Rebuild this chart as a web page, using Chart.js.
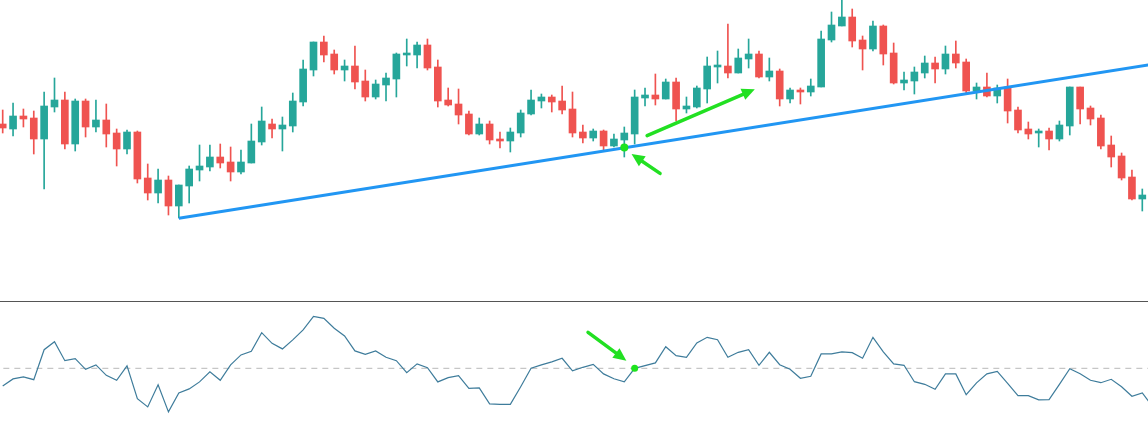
<!DOCTYPE html>
<html>
<head>
<meta charset="utf-8">
<script src="https://cdn.jsdelivr.net/npm/chart.js@4.4.1/dist/chart.umd.min.js"></script>
<style>
  html, body { margin: 0; padding: 0; background: #fff; overflow: hidden; }
  #pricePane { position: relative; width: 1148px; height: 301px; }
  #divider { width: 1148px; height: 1px; background: #555; }
  #oscPane { position: relative; width: 1148px; height: 140px; }
</style>
</head>
<body>
<div id="pricePane"><canvas id="priceChart"></canvas></div>
<div id="divider"></div>
<div id="oscPane"><canvas id="oscChart"></canvas></div>
<script>
// OHLC per bar (index = bar number)
const opens = [138,135.5,142,141,130.5,146.5,150,128,149.5,136.5,
  140,133.5,125.5,134,111,103.5,110,97,107,115,
  116.5,121.5,119,114,118.5,129,138,135.5,137,149,
  165,179,173,165,167,159.5,151.5,157.5,160.5,172.5,
  172.5,177.5,166.5,150,148,143,133,138,130.5,129.5,
  133.5,143,149.5,151.5,149.5,145.5,134,131,134.5,127,
  130,133,151,152.5,150.5,159,145.5,146.5,155.5,166.5,
  167,163.5,170.5,173,161.5,164.5,150.5,155,154,156.5,
  180,187,191.5,180,175.5,187,173.5,158.5,159.5,163.5,
  168.5,165.5,173,169,154.5,156.5,152,156.5,145,135.5,
  133.5,134.5,130.5,137,156.5,146,141,127.5,122,111.5,
  100.5];
const closes = [136,142,140.5,130.5,147,150,128,149.5,136.5,140,
  133,125.5,134,110.5,103.5,110,97,107.5,115.5,117,
  121.5,118.5,114,119,129.5,139.5,135.5,137.5,149.5,165.5,
  179,172.5,165,167,159,151.5,158,161,173,173.5,
  177.5,166,149.5,147.5,142.5,133,138,130,129.5,134,
  143.5,150,151.5,149,145,133.5,131,134.5,127,130.5,
  133.5,151.5,152.5,150.5,159,145.5,147,156,167,167,
  163.5,171,173,161.5,164.5,150.5,155,154,157,180.5,
  187.5,191.5,179.5,175.5,187,173,158.5,160,164,168.5,
  165.5,173,168.5,154.5,156.5,152,156,144.5,135,133,
  134.5,130.5,137.5,156.5,145.5,140.5,127,121.5,111,100.5,
  102.5];
const highs = [145,148.5,145.5,144.5,154,161,154,150.5,150.5,150,
  148,135.5,135,134.5,118,115.5,112,107.5,117,127.5,
  127.5,128,126.5,125,138,146.5,140.5,141.5,153.5,170,
  179,182,175,170,177,165,160,163.5,173.5,180.5,
  179,180.5,170,156,155.5,144.5,141,139.5,134,136,
  145,155,153,152.5,157,154,137.5,135.5,135,133,
  136.5,155,156,163,160.5,161,151.5,157,171.5,174.5,
  188,175.5,180.5,174.5,171,165.5,156,156,160.5,184.5,
  194,200,195.5,182,189.5,187.5,178.5,164,166.5,172,
  171.5,177,179.5,170.5,158.5,163.5,157.5,160.5,146.5,139,
  135.5,136,139.5,156.5,156.5,147,142.5,132,123.5,115,
  105.5];
const lows = [133.5,132,136.5,123,105.5,144,125.5,124.5,131.5,134,
  126.5,117,123,108.5,100,98.5,92.5,91,98.5,109.5,
  114.5,116,109.5,113,118.5,127.5,131,124.5,134,147,
  162,169,163,159.5,155.5,149.5,150.5,149.5,151.5,167,
  166,165,146.5,147,138,132.5,132.5,128,126,124,
  131.5,142.5,146,144,143,131.5,128.5,129.5,125,126.5,
  121.5,128,147,147.5,150.5,139.5,143.5,146,148.5,158.5,
  161,163.5,166,161,159.5,147,148.5,148,152,156.5,
  179,187,176.5,165,174.5,167.5,158,155,153,161,
  158.5,163,166,153.5,150.5,151.5,148.5,138.5,133.5,130.5,
  126.5,125,129.5,132.5,138,137.5,125.5,116.5,110,100,
  94.5];

// oscillator (lower pane), one value per bar
const oscValues = [41.2,44.7,45.7,44.3,59.3,63.3,53.8,54.8,49.5,51.7,
  46.5,44.0,51.2,34.8,30.7,41.8,28.2,37.7,39.7,43.2,
  48.2,44.0,51.7,56.7,58.5,67.8,62.5,59.7,64.2,69.2,
  76.0,75.0,70.0,66.2,58.7,57.0,58.7,55.5,53.8,47.8,
  52.2,50.3,43.2,45.3,46.3,40.0,40.2,32.2,32.0,32.0,
  40.8,50.0,51.7,53.2,55.0,48.7,50.5,52.0,47.2,44.8,
  43.2,50.0,51.3,52.7,60.8,56.3,55.5,62.7,65.5,64.3,
  55.5,58.0,59.3,51.5,58.0,51.8,49.5,45.0,46.0,57.2,
  57.2,58.2,57.8,55.0,65.5,58.2,52.2,51.5,43.3,42.0,
  39.5,47.2,47.2,36.8,42.7,47.2,48.5,42.5,36.3,36.3,
  34.2,34.3,42.0,49.8,47.3,44.0,42.8,44.5,40.8,36.0,
  37.7,30.8];
const oscMidLevel = 50;

// drawn annotations (bar index, value)
const trendLine = [[17, 90.9], [111, 167.9]];
const priceMarker = [60, 126.2];
const oscMarker = [61, 50];
const priceArrows = [
  { from: [62.2, 132.2], to: [72.6, 155.4] },
  { from: [63.45, 113.3], to: [60.7, 123.0] }
];
const oscArrows = [
  { from: [56.5, 68.0], to: [60.2, 53.8] }
];

const UP = '#26a69a';
const DOWN = '#ef5350';
const ARROW = '#22e022';
const X_MIN = -0.26, X_MAX = 110.55;

const arrowPlugin = {
  id: 'arrows',
  afterDatasetsDraw(chart, args, opts) {
    const ctx = chart.ctx;
    const xs = chart.scales.x, ys = chart.scales.y;
    (opts.items || []).forEach(a => {
      const x1 = xs.getPixelForValue(a.from[0]), y1 = ys.getPixelForValue(a.from[1]);
      const x2 = xs.getPixelForValue(a.to[0]), y2 = ys.getPixelForValue(a.to[1]);
      const ang = Math.atan2(y2 - y1, x2 - x1);
      const head = 13, half = 6;
      const bx = x2 - head * Math.cos(ang), by = y2 - head * Math.sin(ang);
      ctx.save();
      ctx.strokeStyle = ARROW;
      ctx.fillStyle = ARROW;
      ctx.lineWidth = 3.5;
      ctx.lineCap = 'round';
      ctx.beginPath();
      ctx.moveTo(x1, y1);
      ctx.lineTo(bx + 2 * Math.cos(ang), by + 2 * Math.sin(ang));
      ctx.stroke();
      ctx.beginPath();
      ctx.moveTo(x2, y2);
      ctx.lineTo(bx - half * Math.sin(ang), by + half * Math.cos(ang));
      ctx.lineTo(bx + half * Math.sin(ang), by - half * Math.cos(ang));
      ctx.closePath();
      ctx.fill();
      ctx.restore();
    });
  }
};

const colors = opens.map((o, i) => closes[i] >= o ? UP : DOWN);
const bodies = opens.map((o, i) => ({ x: i, y: [o, closes[i]] }));
const wicks = lows.map((l, i) => ({ x: i, y: [l, highs[i]] }));

const xAxis = { type: 'linear', min: X_MIN, max: X_MAX, display: false, offset: false };

new Chart(document.getElementById('priceChart'), {
  type: 'bar',
  data: {
    datasets: [
      { data: wicks, backgroundColor: colors, barThickness: 1, grouped: false, order: 3 },
      { data: bodies, backgroundColor: colors, barThickness: 7, minBarLength: 2, grouped: false, order: 2 },
      { type: 'line', data: trendLine.map(p => ({ x: p[0], y: p[1] })), borderColor: '#2196f3',
        borderWidth: 3, pointRadius: 0, order: 1 },
      { type: 'scatter', data: [{ x: priceMarker[0], y: priceMarker[1] }], backgroundColor: '#1ee31e',
        pointRadius: 4, borderWidth: 0, order: 0 }
    ]
  },
  options: {
    responsive: true,
    maintainAspectRatio: false,
    animation: false,
    events: [],
    layout: { padding: 0, autoPadding: false },
    plugins: { legend: { display: false }, tooltip: { enabled: false }, arrows: { items: priceArrows } },
    scales: {
      x: xAxis,
      y: { type: 'linear', min: 49.5, max: 200, display: false }
    }
  },
  plugins: [arrowPlugin]
});

new Chart(document.getElementById('oscChart'), {
  type: 'line',
  data: {
    datasets: [
      { data: oscValues.map((v, i) => ({ x: i, y: v })), borderColor: '#3e7c9b', borderWidth: 1.2,
        pointRadius: 0, tension: 0, order: 1 },
      { data: [{ x: -1, y: oscMidLevel }, { x: 112, y: oscMidLevel }], borderColor: '#b8b8b8',
        borderWidth: 1, borderDash: [6, 5], pointRadius: 0, order: 2 },
      { type: 'scatter', data: [{ x: oscMarker[0], y: oscMarker[1] }], backgroundColor: '#1ee31e',
        pointRadius: 3.5, borderWidth: 0, order: 0 }
    ]
  },
  options: {
    responsive: true,
    maintainAspectRatio: false,
    animation: false,
    events: [],
    layout: { padding: 0, autoPadding: false },
    plugins: { legend: { display: false }, tooltip: { enabled: false }, arrows: { items: oscArrows } },
    scales: {
      x: xAxis,
      y: { type: 'linear', min: 13.15, max: 83.15, display: false }
    }
  },
  plugins: [arrowPlugin]
});
</script>
</body>
</html>
